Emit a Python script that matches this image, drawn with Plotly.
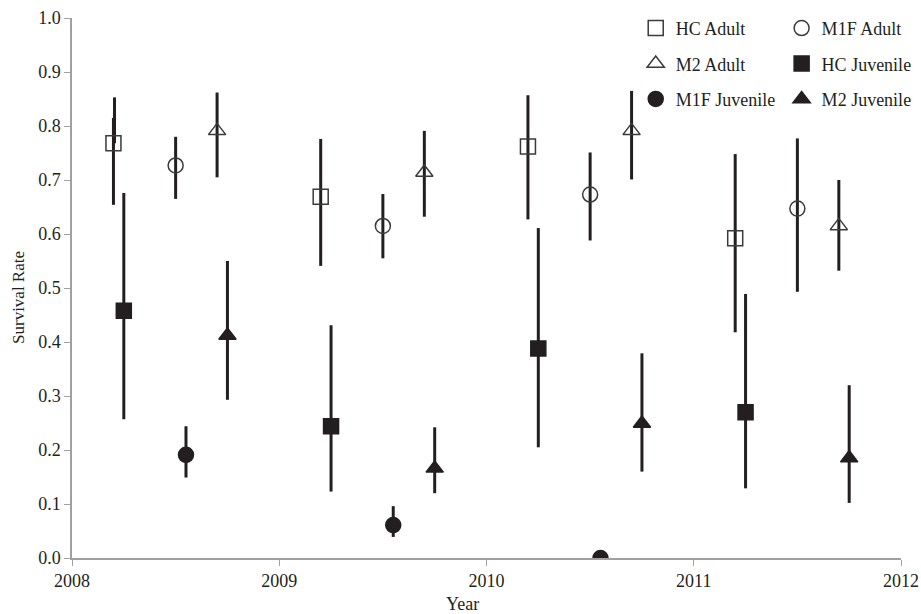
import plotly.graph_objects as go

# ---- data ----
hc_adult_x = [2008.2, 2009.2, 2010.2, 2011.2]
hc_adult_y = [0.768, 0.669, 0.762, 0.592]
hc_adult_hi = [0.815, 0.776, 0.857, 0.748]
hc_adult_lo = [0.654, 0.541, 0.627, 0.418]
# extra (duplicate) upper bar drawn for the 2008 HC Adult estimate
hc_adult_extra_x = [2008.205]
hc_adult_extra_y = [0.768]
hc_adult_extra_hi = [0.853]

m1f_adult_x = [2008.5, 2009.5, 2010.5, 2011.5]
m1f_adult_y = [0.727, 0.615, 0.673, 0.647]
m1f_adult_hi = [0.780, 0.674, 0.751, 0.777]
m1f_adult_lo = [0.665, 0.555, 0.588, 0.493]

m2_adult_x = [2008.7, 2009.7, 2010.7, 2011.7]
m2_adult_y = [0.791, 0.714, 0.791, 0.615]
m2_adult_hi = [0.862, 0.791, 0.865, 0.700]
m2_adult_lo = [0.705, 0.632, 0.701, 0.532]

hc_juv_x = [2008.25, 2009.25, 2010.25, 2011.25]
hc_juv_y = [0.458, 0.244, 0.388, 0.270]
hc_juv_hi = [0.676, 0.431, 0.611, 0.489]
hc_juv_lo = [0.257, 0.123, 0.205, 0.129]

m1f_juv_x = [2008.55, 2009.55, 2010.55]
m1f_juv_y = [0.191, 0.061, 0.0]
m1f_juv_hi = [0.244, 0.096, 0.0]
m1f_juv_lo = [0.149, 0.039, 0.0]

m2_juv_x = [2008.75, 2009.75, 2010.75, 2011.75]
m2_juv_y = [0.412, 0.166, 0.249, 0.185]
m2_juv_hi = [0.550, 0.242, 0.379, 0.320]
m2_juv_lo = [0.293, 0.120, 0.160, 0.102]

x_ticks = [2008, 2009, 2010, 2011, 2012]
y_ticks = [0.0, 0.1, 0.2, 0.3, 0.4, 0.5, 0.6, 0.7, 0.8, 0.9, 1.0]

DARK = "#231f20"
TEXT = "#231f20"
FONT = "Liberation Serif"

def err(y, hi, lo):
    return dict(type="data", symmetric=False,
                array=[h - v for h, v in zip(hi, y)],
                arrayminus=[v - l for v, l in zip(y, lo)],
                color=DARK, thickness=3, width=0)

fig = go.Figure()

series = [
    ("HC Adult", hc_adult_x, hc_adult_y, hc_adult_hi, hc_adult_lo, "square-open", "legend", 15),
    ("M1F Adult", m1f_adult_x, m1f_adult_y, m1f_adult_hi, m1f_adult_lo, "circle-open", "legend2", 15),
    ("M2 Adult", m2_adult_x, m2_adult_y, m2_adult_hi, m2_adult_lo, "triangle-up-open", "legend", 15),
    ("HC Juvenile", hc_juv_x, hc_juv_y, hc_juv_hi, hc_juv_lo, "square", "legend2", 15),
    ("M1F Juvenile", m1f_juv_x, m1f_juv_y, m1f_juv_hi, m1f_juv_lo, "circle", "legend", 15),
    ("M2 Juvenile", m2_juv_x, m2_juv_y, m2_juv_hi, m2_juv_lo, "triangle-up", "legend2", 15),
]

# extra bar first (underneath)
fig.add_trace(go.Scatter(
    x=hc_adult_extra_x, y=hc_adult_extra_y, mode="markers",
    marker=dict(size=1, color="rgba(0,0,0,0)"),
    error_y=dict(type="data", symmetric=False, array=[h - v for h, v in zip(hc_adult_extra_hi, hc_adult_extra_y)],
                 arrayminus=[0.0], color=DARK, thickness=3, width=0),
    showlegend=False, hoverinfo="skip"))

for i, (name, xs, ys, hi, lo, sym, leg, size) in enumerate(series):
    open_ = sym.endswith("open")
    fig.add_trace(go.Scatter(
        x=xs, y=ys, mode="markers", name=name,
        marker=dict(symbol=sym, size=size,
                    color="#3a3a3a" if open_ else DARK,
                    line=dict(width=1.5, color="#3a3a3a" if open_ else DARK)),
        error_y=err(ys, hi, lo),
        legend=leg, legendgroup=name))

legend_common = dict(font=dict(family=FONT, size=18, color=TEXT),
                     bgcolor="rgba(0,0,0,0)", traceorder="grouped",
                     tracegroupgap=9, itemwidth=30, yanchor="top", xanchor="left",
                     orientation="v")

fig.update_layout(
    width=921, height=614,
    margin=dict(l=72, r=20, t=18, b=56, autoexpand=False),
    plot_bgcolor="white", paper_bgcolor="white",
    font=dict(family=FONT, size=18, color=TEXT),
    legend=dict(x=0.68, y=1.015, **legend_common),
    legend2=dict(x=0.856, y=1.015, **legend_common),
    xaxis=dict(range=[2008, 2012], tickvals=x_ticks, ticktext=[str(v) for v in x_ticks],
               showgrid=False, zeroline=False, showline=True, linecolor="#a0a0a0", linewidth=1.5,
               ticks="outside", ticklen=6, tickcolor="#a0a0a0", ticklabeloverflow="allow",
               tickfont=dict(size=18)),
    yaxis=dict(range=[0, 1.0], tickvals=y_ticks,
               ticktext=[f"{v:.1f}" for v in y_ticks],
               showgrid=False, zeroline=False, showline=True, linecolor="#a0a0a0", linewidth=1.5,
               ticks="outside", ticklen=6, tickcolor="#a0a0a0", ticklabelstandoff=0,
               ticklabeloverflow="allow", tickfont=dict(size=18)),
    annotations=[
        dict(text="Survival Rate", textangle=-90, xref="paper", yref="paper",
             x=0, y=0.4815, xanchor="center", yanchor="middle", xshift=-53,
             showarrow=False, font=dict(family=FONT, size=17, color=TEXT)),
        dict(text="Year", xref="paper", yref="paper",
             x=0.471, y=0, xanchor="center", yanchor="middle", yshift=-46,
             showarrow=False, font=dict(family=FONT, size=18, color=TEXT)),
    ],
)

fig.write_html("out.html",
               config={"displayModeBar": False},
               post_script="document.body.style.margin='0';"
                           "document.documentElement.style.overflow='hidden';"
                           "document.body.style.overflow='hidden';")
